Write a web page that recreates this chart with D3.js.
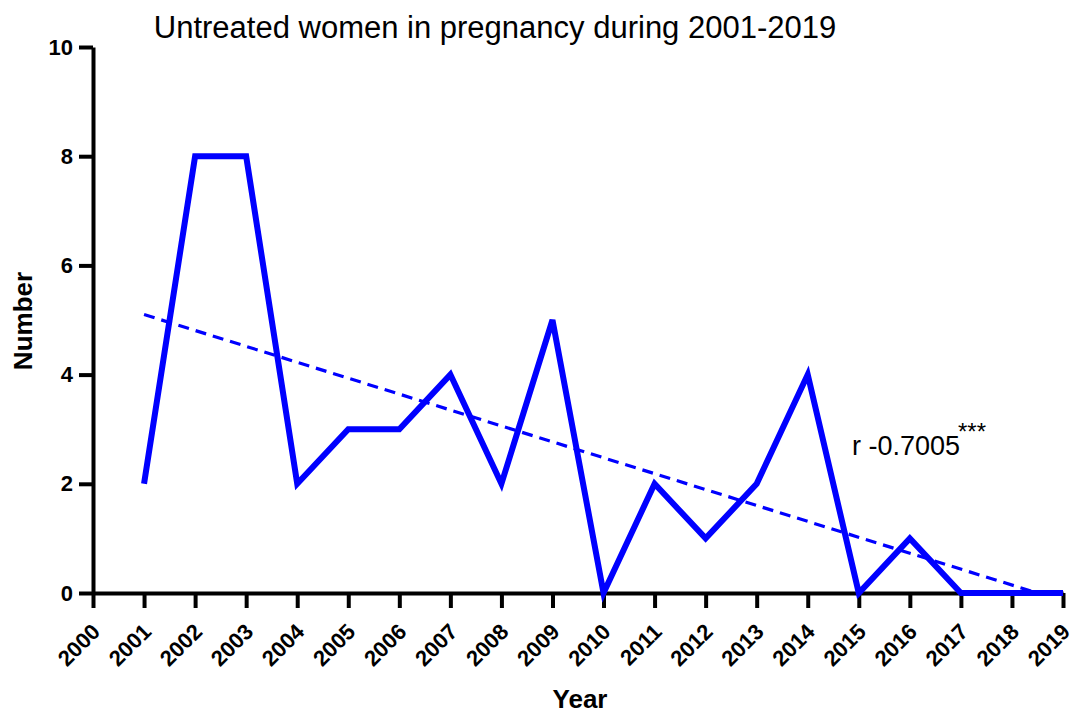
<!DOCTYPE html>
<html><head><meta charset="utf-8">
<script src="https://cdn.jsdelivr.net/npm/d3@7"></script>
<style>body{margin:0;background:#fff;} text{font-family:"Liberation Sans",Arial,sans-serif;}</style>
</head><body>
<svg id="c" width="1070" height="714"></svg>
<script>
const years = [2001,2002,2003,2004,2005,2006,2007,2008,2009,2010,2011,2012,2013,2014,2015,2016,2017,2018,2019];
const counts = [2,8,8,2,3,3,4,2,5,0,2,1,2,4,0,1,0,0,0];
const trendYears = [2001, 2018.5];
const trendValues = [5.1, 0];
const xTicks = [2000,2001,2002,2003,2004,2005,2006,2007,2008,2009,2010,2011,2012,2013,2014,2015,2016,2017,2018,2019];
const yTicks = [0,2,4,6,8,10];

const svg = d3.select("#c");
const x = d3.scaleLinear().domain([2000,2019]).range([93,1063]);
const y = d3.scaleLinear().domain([0,10]).range([593,47]);

// axes
const xAxis = svg.append("g").attr("transform","translate(0,593)")
  .call(d3.axisBottom(x).tickValues(xTicks).tickFormat(d3.format("d")).tickSize(15).tickSizeOuter(0));
xAxis.select(".domain").attr("stroke","#000").attr("stroke-width",4);
xAxis.selectAll(".tick line").attr("stroke","#000").attr("stroke-width",4);
xAxis.selectAll(".tick text")
  .attr("font-size",22).attr("font-weight","bold").attr("fill","#000")
  .attr("text-anchor","end").attr("y",0).attr("dy",0)
  .attr("transform","translate(8,40) rotate(-45)");

const yAxis = svg.append("g").attr("transform","translate(93,0)")
  .call(d3.axisLeft(y).tickValues(yTicks).tickSize(14).tickSizeOuter(0));
yAxis.select(".domain").attr("stroke","#000").attr("stroke-width",4);
yAxis.selectAll(".tick line").attr("stroke","#000").attr("stroke-width",4);
yAxis.selectAll(".tick text").attr("font-size",22).attr("font-weight","bold").attr("fill","#000").attr("x",-20);

// trend
const trend = trendYears.map((d,i)=>[d,trendValues[i]]);
svg.append("path").datum(trend)
  .attr("d", d3.line().x(d=>x(d[0])).y(d=>y(d[1])))
  .attr("fill","none").attr("stroke","#0000ff").attr("stroke-width",3.2).attr("stroke-dasharray","11,7");

// data line
const pts = years.map((d,i)=>[d,counts[i]]);
svg.append("path").datum(pts)
  .attr("d", d3.line().x(d=>x(d[0])).y(d=>y(d[1])))
  .attr("fill","none").attr("stroke","#0000ff").attr("stroke-width",6).attr("stroke-linejoin","miter");

// title
svg.append("text").attr("x",495).attr("y",38).attr("text-anchor","middle")
  .attr("font-size",31).attr("fill","#000").text("Untreated women in pregnancy during 2001-2019");

// axis titles
svg.append("text").attr("transform","translate(32,321) rotate(-90)").attr("text-anchor","middle")
  .attr("font-size",26).attr("font-weight","bold").attr("fill","#000").text("Number");
svg.append("text").attr("x",580).attr("y",708).attr("text-anchor","middle")
  .attr("font-size",26).attr("font-weight","bold").attr("fill","#000").text("Year");

// annotation
svg.append("text").attr("x",852).attr("y",455).attr("font-size",27).attr("fill","#000").text("r -0.7005");
svg.append("text").attr("x",958).attr("y",440).attr("font-size",24).attr("fill","#000").text("***");
</script>
</body></html>
